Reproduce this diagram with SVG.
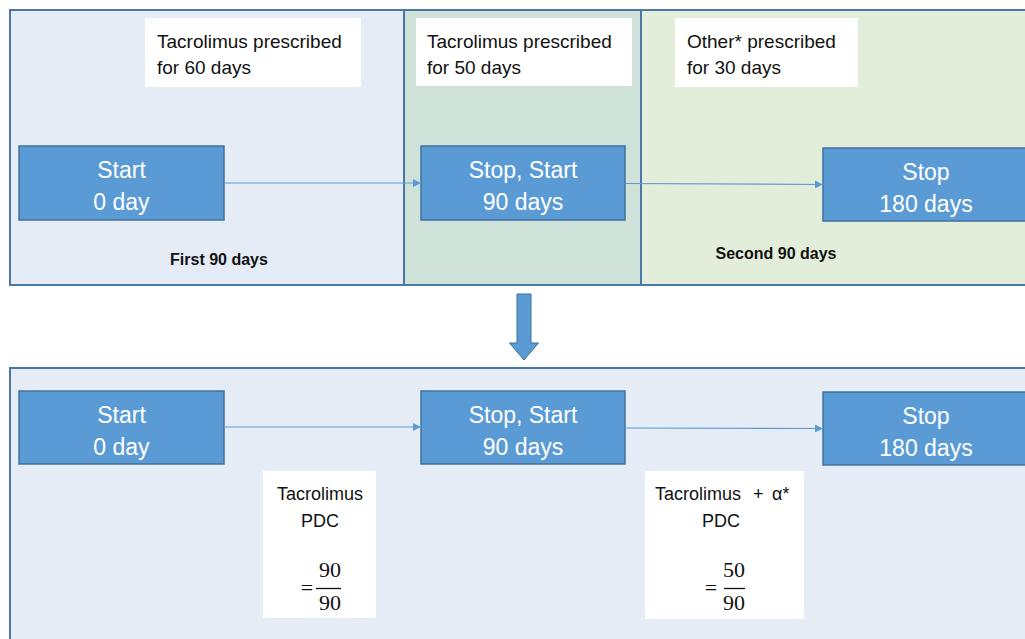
<svg xmlns="http://www.w3.org/2000/svg" width="1025" height="639" viewBox="0 0 1025 639">
  <style>
    .panel { stroke: #4A76A8; stroke-width: 2; }
    .node { fill: #5B9BD5; stroke: #41719C; stroke-width: 1.5; }
    .ntext { font-family: "Liberation Sans", Arial, sans-serif; font-size: 23px; fill: #FFFFFF; text-anchor: middle; }
    .label { fill: #FFFFFF; }
    .ltext { font-family: "Liberation Sans", Arial, sans-serif; font-size: 19px; fill: #111111; }
    .ctext { font-family: "Liberation Sans", Arial, sans-serif; font-size: 18px; fill: #111111; text-anchor: middle; }
    .stext { font-family: "Liberation Sans", Arial, sans-serif; font-size: 18px; fill: #111111; }
    .btext { font-family: "Liberation Sans", Arial, sans-serif; font-size: 16px; font-weight: bold; fill: #111111; text-anchor: middle; }
    .math { font-family: "Liberation Serif", "Times New Roman", serif; font-size: 22px; fill: #111111; text-anchor: middle; }
    .conn { stroke: #5B9BD5; stroke-width: 1.2; fill: none; marker-end: url(#arr); }
  </style>
  <defs>
    <marker id="arr" viewBox="0 0 10 10" refX="10" refY="5" markerWidth="8" markerHeight="8" markerUnits="userSpaceOnUse" orient="auto">
      <path d="M0,0 L10,5 L0,10 Z" fill="#5B9BD5"/>
    </marker>
  </defs>
  <rect width="1025" height="639" fill="#FFFFFF"/>

  <!-- Top panel -->
  <g id="top-panel">
    <rect x="10" y="10" width="394" height="275" fill="#E5ECF6"/>
    <rect x="404" y="10" width="237" height="275" fill="#CFE2DA"/>
    <rect x="641" y="10" width="390" height="275" fill="#E3EEDA"/>
    <rect class="panel" x="10" y="10" width="1025" height="275" fill="none"/>
    <line class="panel" x1="404" y1="10" x2="404" y2="285"/>
    <line class="panel" x1="641" y1="10" x2="641" y2="285"/>
    <text class="btext" x="219" y="265">First 90 days</text>
    <text class="btext" x="776" y="259">Second 90 days</text>
  </g>

  <g id="label-60">
    <rect class="label" x="145" y="18" width="216" height="69"/>
    <text class="ltext" x="157" y="48">Tacrolimus prescribed</text>
    <text class="ltext" x="157" y="74">for 60 days</text>
  </g>
  <g id="label-50">
    <rect class="label" x="416" y="18" width="216" height="68"/>
    <text class="ltext" x="427" y="48">Tacrolimus prescribed</text>
    <text class="ltext" x="427" y="74">for 50 days</text>
  </g>
  <g id="label-30">
    <rect class="label" x="675" y="18" width="183" height="69"/>
    <text class="ltext" x="687" y="48">Other* prescribed</text>
    <text class="ltext" x="687" y="74">for 30 days</text>
  </g>

  <g id="top-start">
    <rect class="node" x="19" y="146" width="205" height="74"/>
    <text class="ntext" x="121.5" y="178">Start</text>
    <text class="ntext" x="121.5" y="210">0 day</text>
  </g>
  <g id="top-stopstart">
    <rect class="node" x="421" y="146" width="204" height="74"/>
    <text class="ntext" x="523" y="178">Stop, Start</text>
    <text class="ntext" x="523" y="210">90 days</text>
  </g>
  <g id="top-stop">
    <rect class="node" x="823" y="148" width="206" height="73"/>
    <text class="ntext" x="926" y="180">Stop</text>
    <text class="ntext" x="926" y="212">180 days</text>
  </g>

  <!-- Down arrow -->
  <g id="down-arrow">
    <path d="M517,294 L531,294 L531,343 L538.5,343 L524,360 L509.5,343 L517,343 Z" fill="#5B9BD5" stroke="#41719C" stroke-width="1"/>
  </g>

  <!-- Bottom panel -->
  <g id="bottom-panel">
    <rect class="panel" x="10" y="368" width="1025" height="280" fill="#E5ECF6"/>
  </g>

  <g id="bottom-start">
    <rect class="node" x="19" y="391" width="205" height="73"/>
    <text class="ntext" x="121.5" y="423">Start</text>
    <text class="ntext" x="121.5" y="455">0 day</text>
  </g>
  <g id="bottom-stopstart">
    <rect class="node" x="421" y="391" width="204" height="73"/>
    <text class="ntext" x="523" y="423">Stop, Start</text>
    <text class="ntext" x="523" y="455">90 days</text>
  </g>
  <g id="bottom-stop">
    <rect class="node" x="823" y="392" width="206" height="73"/>
    <text class="ntext" x="926" y="424">Stop</text>
    <text class="ntext" x="926" y="456">180 days</text>
  </g>

  <g id="pdc-first">
    <rect class="label" x="263" y="471" width="113" height="147"/>
    <text class="ctext" x="320" y="500">Tacrolimus</text>
    <text class="ctext" x="320" y="527">PDC</text>
    <text class="math" x="307" y="595">=</text>
    <text class="math" x="330" y="577">90</text>
    <line x1="316" y1="588.5" x2="341" y2="588.5" stroke="#111111" stroke-width="1.3"/>
    <text class="math" x="330" y="610">90</text>
  </g>
  <g id="pdc-second">
    <rect class="label" x="645" y="471" width="159" height="148"/>
    <text class="stext" x="655" y="500">Tacrolimus <tspan x="753">+</tspan> <tspan x="772">α*</tspan></text>
    <text class="ctext" x="721" y="527">PDC</text>
    <text class="math" x="711" y="595">=</text>
    <text class="math" x="734" y="577">50</text>
    <line x1="724" y1="588.5" x2="745" y2="588.5" stroke="#111111" stroke-width="1.3"/>
    <text class="math" x="734" y="610">90</text>
  </g>

  <!-- Connectors -->
  <g id="connectors">
    <line class="conn" x1="224" y1="183" x2="421" y2="183"/>
    <line class="conn" x1="625" y1="183.5" x2="823" y2="184.5"/>
    <line class="conn" x1="224" y1="427" x2="421" y2="427"/>
    <line class="conn" x1="625" y1="428" x2="823" y2="428.5"/>
  </g>
</svg>
